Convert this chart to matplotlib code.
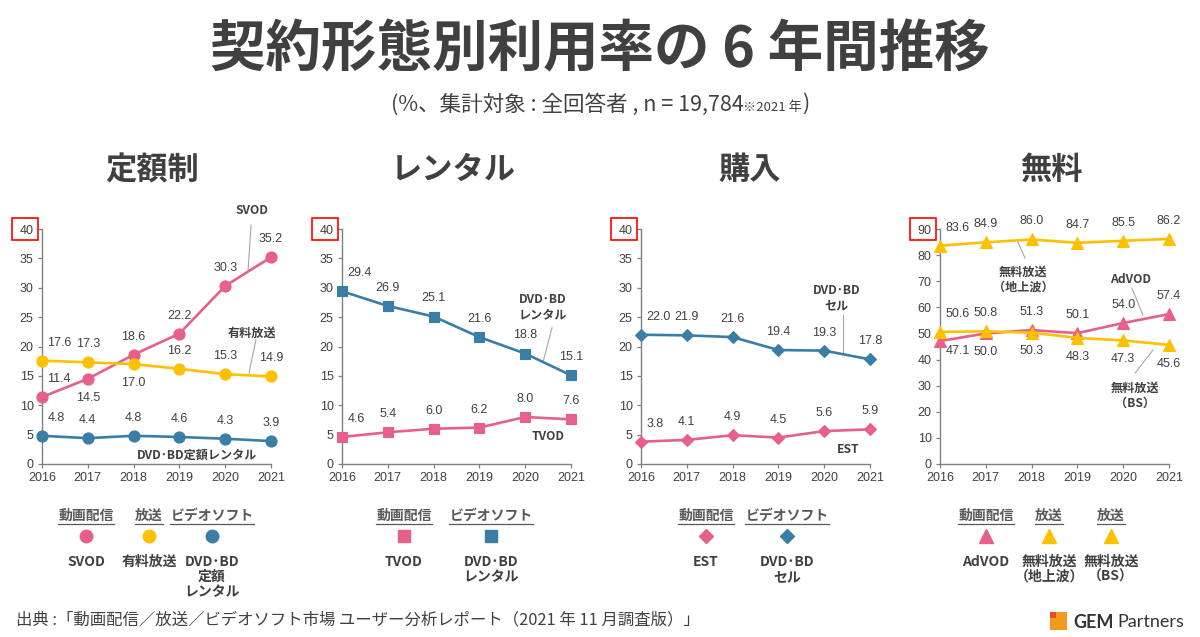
import matplotlib
matplotlib.use('Agg')
import matplotlib.pyplot as plt
from matplotlib.lines import Line2D
from matplotlib.patches import Rectangle

# ---------------- data ----------------
years = [2016, 2017, 2018, 2019, 2020, 2021]

# 定額制
svod = [11.4, 14.5, 18.6, 22.2, 30.3, 35.2]
paid_bc = [17.6, 17.3, 17.0, 16.2, 15.3, 14.9]
dvd_sub = [4.8, 4.4, 4.8, 4.6, 4.3, 3.9]
# レンタル
dvd_rental = [29.4, 26.9, 25.1, 21.6, 18.8, 15.1]
tvod = [4.6, 5.4, 6.0, 6.2, 8.0, 7.6]
# 購入
dvd_sell = [22.0, 21.9, 21.6, 19.4, 19.3, 17.8]
est = [3.8, 4.1, 4.9, 4.5, 5.6, 5.9]
# 無料
free_terr = [83.6, 84.9, 86.0, 84.7, 85.5, 86.2]
advod = [47.1, 50.0, 51.3, 50.1, 54.0, 57.4]
free_bs = [50.6, 50.8, 50.3, 48.3, 47.3, 45.6]

panel_titles = ['定額制', 'レンタル', '購入', '無料']
y_max = [40, 40, 40, 90]
y_step = [5, 5, 5, 10]

title = '契約形態別利用率の 6 年間推移'
subtitle_main = '(%、集計対象 : 全回答者 , n = 19,784'
subtitle_small = '※2021 年'
source = '出典 :「動画配信／放送／ビデオソフト市場 ユーザー分析レポート（2021 年 11 月調査版）」'

# ---------------- style ----------------
PINK = '#E6608A'
YEL = '#FFC000'
BLUE = '#3A7EA6'
TXT = '#404040'
JP = ['Noto Sans CJK JP', 'DejaVu Sans']
NUM = ['Liberation Sans', 'Noto Sans CJK JP']
NUMFS = 9.0

W, H = 1200, 637
fig = plt.figure(figsize=(W / 100, H / 100), dpi=100)
fig.patch.set_facecolor('white')


def fx(px):
    return px / W


def fy(py):
    return 1 - py / H


ax_left_px = [42, 342, 641, 940]
ax_w_px = 229
ax_top_px, ax_bot_px = 229, 464

# label position codes: a = above, b = below, n = near-below
pos_svod = ['a', 'b', 'a', 'a', 'a', 'a']
pos_paid = ['a', 'a', 'b', 'a', 'a', 'a']
pos_advod = ['n', 'b', 'a', 'a', 'a', 'a']
pos_bs = ['a', 'a', 'b', 'b', 'b', 'b']
pos_all_a = ['a'] * 6

panels = [
    [(svod, PINK, 'o', 8, pos_svod), (paid_bc, YEL, 'o', 8, pos_paid), (dvd_sub, BLUE, 'o', 8, pos_all_a)],
    [(dvd_rental, BLUE, 's', 7.5, pos_all_a), (tvod, PINK, 's', 7.5, pos_all_a)],
    [(dvd_sell, BLUE, 'D', 6.5, pos_all_a), (est, PINK, 'D', 6.5, pos_all_a)],
    [(free_terr, YEL, '^', 9, pos_all_a), (advod, PINK, '^', 9, pos_advod), (free_bs, YEL, '^', 9, pos_bs)],
]

# annotation (text, text pos axes-frac, leader line or None)
annots = [
    [('SVOD', (0.917, 1.077), ((0.913, 1.017), (0.900, 0.826))),
     ('有料放送', (0.917, 0.557), ((0.934, 0.528), (0.904, 0.387))),
     ('DVD･BD定額レンタル', (0.677, 0.038), None)],
    [('DVD･BD\nレンタル', (0.878, 0.668), ((0.917, 0.579), (0.878, 0.434))),
     ('TVOD', (0.900, 0.115), None)],
    [('DVD･BD\nセル', (0.856, 0.706), ((0.882, 0.634), (0.882, 0.472))),
     ('EST', (0.904, 0.060), None)],
    [('無料放送\n（地上波）', (0.362, 0.783), ((0.336, 0.953), (0.371, 0.877))),
     ('AdVOD', (0.830, 0.787), ((0.838, 0.749), (0.886, 0.634))),
     ('無料放送\n（BS）', (0.852, 0.289), ((0.930, 0.485), (0.852, 0.387)))],
]

title_x_px = [152, 453, 750, 1051]
axes = []
for i in range(4):
    ax = fig.add_axes([fx(ax_left_px[i]), fy(ax_bot_px), ax_w_px / W, (ax_bot_px - ax_top_px) / H])
    axes.append(ax)
    ax.set_xlim(years[0], years[-1])
    ax.set_ylim(0, y_max[i])
    ax.set_yticks(range(0, y_max[i] + 1, y_step[i]))
    ax.set_xticks(years)
    ax.set_xticklabels([str(y) for y in years])
    for s in ['top', 'right']:
        ax.spines[s].set_visible(False)
    for s in ['left', 'bottom']:
        ax.spines[s].set_color('#808080')
        ax.spines[s].set_linewidth(1.0)
    ax.tick_params(axis='both', direction='out', length=3, width=0.9, color='#808080',
                   labelsize=NUMFS, labelcolor=TXT, pad=3)
    for lab in ax.get_xticklabels() + ax.get_yticklabels():
        lab.set_family(NUM)
    ax.set_facecolor('none')

    for vals, col, mk, ms, pos in panels[i]:
        ax.plot(years, vals, color=col, lw=1.9, marker=mk, ms=ms, mfc=col, mec=col,
                mew=0.8, clip_on=False, zorder=3)
        for j, (x, v) in enumerate(zip(years, vals)):
            p = pos[j]
            if p == 'a':
                dy = 13
            elif p == 'b':
                dy = -13.5
            else:
                dy = -7.5
            if j == 0:
                ax.annotate(f'{v:.1f}', (x, v), xytext=(4, dy), textcoords='offset points',
                            ha='left', va='center', fontsize=NUMFS, color=TXT, family=NUM,
                            annotation_clip=False)
            else:
                ax.annotate(f'{v:.1f}', (x, v), xytext=(0, dy), textcoords='offset points',
                            ha='center', va='center', fontsize=NUMFS, color=TXT, family=NUM,
                            annotation_clip=False)

    for txt, (tx, ty), line in annots[i]:
        ax.text(tx, ty, txt, transform=ax.transAxes, ha='center', va='center', fontsize=8.7,
                fontweight='bold', color=TXT, family=JP, linespacing=1.2, clip_on=False)
        if line is not None:
            (x0, y0), (x1, y1) = line
            ax.add_line(Line2D([x0, x1], [y0, y1], transform=ax.transAxes, color='#A6A6A6',
                               lw=0.8, clip_on=False))

    # red box around top tick label
    box_left = ax_left_px[i] - 30
    fig.add_artist(Rectangle((fx(box_left), fy(240)), 26 / W, 22 / H, transform=fig.transFigure,
                             fill=False, ec='#FF0000', lw=1.2))

    fig.text(fx(title_x_px[i]), fy(170), panel_titles[i], ha='center', va='center',
             fontsize=22.5, fontweight='bold', color=TXT, family=JP)

# ---------------- title ----------------
fig.text(0.5, fy(50), title, ha='center', va='center', fontsize=40, fontweight='bold',
         color=TXT, family=JP)

fig.canvas.draw()
renderer = fig.canvas.get_renderer()

# subtitle (chained pieces)
pieces = [(subtitle_main, 15.5), (subtitle_small, 9.5), (')', 15.5)]
widths = []
tmp = []
for s, fs in pieces:
    t = fig.text(0, 0, s, fontsize=fs, color=TXT, family=JP)
    widths.append(t.get_window_extent(renderer).width)
    tmp.append(t)
total = sum(widths)
x0 = 600 - total / 2
for t, w, (s, fs) in zip(tmp, widths, pieces):
    if fs < 12:
        t.set_position((fx(x0), fy(111)))
        t.set_va('baseline')
    else:
        t.set_position((fx(x0), fy(104)))
        t.set_va('center')
    x0 += w

# ---------------- legends ----------------
legend_items = [
    (86, '動画配信', 'o', PINK, 'SVOD'),
    (149, '放送', 'o', YEL, '有料放送'),
    (212, 'ビデオソフト', 'o', BLUE, 'DVD･BD\n定額\nレンタル'),
    (404, '動画配信', 's', PINK, 'TVOD'),
    (491, 'ビデオソフト', 's', BLUE, 'DVD･BD\nレンタル'),
    (706, '動画配信', 'D', PINK, 'EST'),
    (787, 'ビデオソフト', 'D', BLUE, 'DVD･BD\nセル'),
    (986, '動画配信', '^', PINK, 'AdVOD'),
    (1049, '放送', '^', YEL, '無料放送\n（地上波）'),
    (1111, '放送', '^', YEL, '無料放送\n（BS）'),
]
for x, head, mk, col, lab in legend_items:
    t = fig.text(fx(x), fy(516), head, ha='center', va='center', fontsize=10,
                 fontweight='bold', color='#595959', family=JP)
    bb = t.get_window_extent(renderer)
    fig.add_artist(Line2D([bb.x0 / W, bb.x1 / W], [fy(524), fy(524)], transform=fig.transFigure,
                          color='#595959', lw=0.9))
    ms = {'o': 9, 's': 9, 'D': 7.5, '^': 10}[mk]
    fig.add_artist(Line2D([fx(x)], [fy(536)], marker=mk, ms=ms, color=col, mec=col,
                          transform=fig.transFigure, linestyle='none'))
    fig.text(fx(x), fy(555), lab, ha='center', va='top', fontsize=10, fontweight='bold',
             color=TXT, family=JP, linespacing=1.1)

# ---------------- footer ----------------
fig.text(fx(16), fy(620), source, ha='left', va='center', fontsize=11.8, color=TXT, family=JP)

# logo
fig.add_artist(Rectangle((fx(1050), fy(630)), 17 / W, 18 / H, transform=fig.transFigure,
                         color='#F39A1E', lw=0))
fig.add_artist(Rectangle((fx(1050), fy(618)), 6 / W, 6 / H, transform=fig.transFigure,
                         color='#E8501E', lw=0))
g = fig.text(fx(1073), fy(622), 'GEM', ha='left', va='center', fontsize=13, fontweight='bold',
             color='#333333', family=['Lato', 'DejaVu Sans'])
gw = g.get_window_extent(renderer).width
fig.text(fx(1073 + gw + 4), fy(622), 'Partners', ha='left', va='center', fontsize=13,
         color='#333333', family=['Lato', 'DejaVu Sans'])

fig.savefig('out.png', dpi=100, facecolor='white')
